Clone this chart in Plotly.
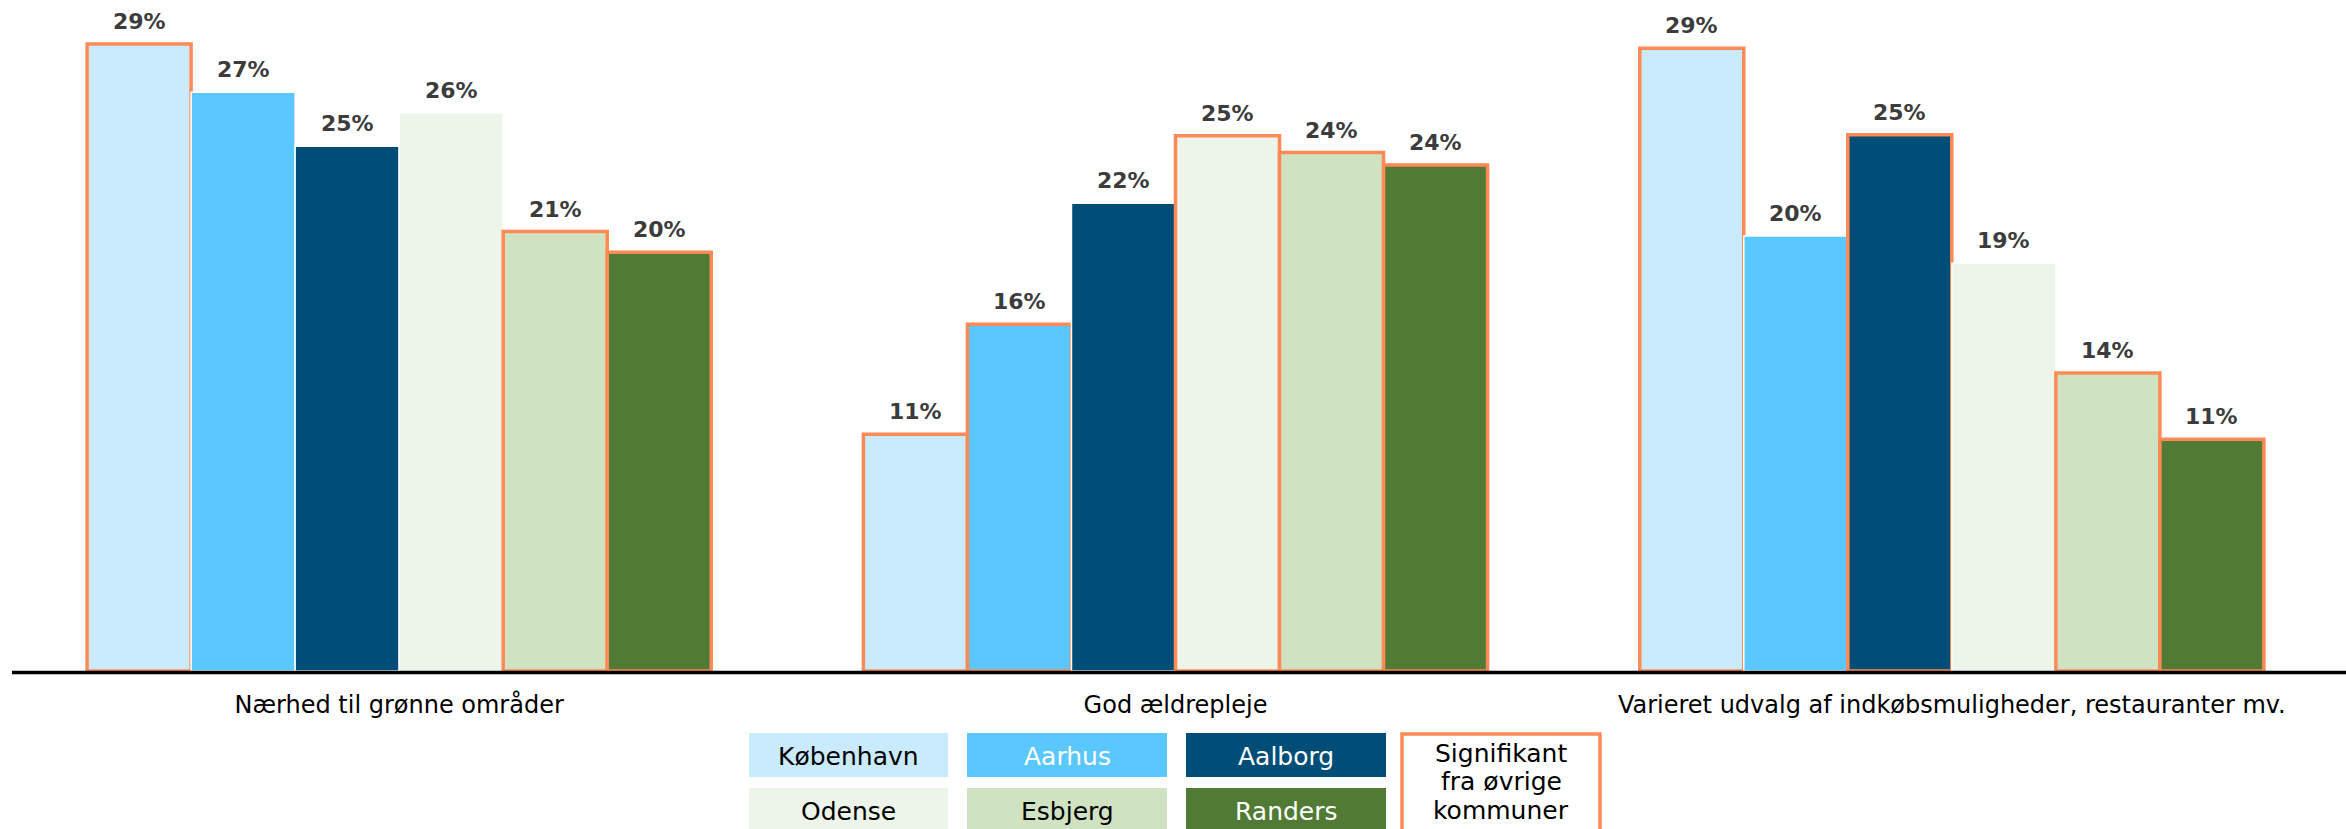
import plotly.graph_objects as go

# ---------------- data ----------------
categories = ["Nærhed til grønne områder", "God ældrepleje",
              "Varieret udvalg af indkøbsmuligheder, restauranter mv."]
cities = ["København", "Aarhus", "Aalborg", "Odense", "Esbjerg", "Randers"]

kobenhavn = [29.36, 11.09, 29.16]
aarhus = [27.10, 16.24, 20.37]
aalborg = [24.57, 21.90, 25.11]
odense = [26.14, 25.06, 19.09]
esbjerg = [20.58, 24.28, 13.95]
randers = [19.61, 23.70, 10.85]

# significant vs. other municipalities (orange outline)
sig_kobenhavn = [True, True, True]
sig_aarhus = [False, True, False]
sig_aalborg = [False, False, True]
sig_odense = [False, True, False]
sig_esbjerg = [True, True, True]
sig_randers = [True, True, True]

legend_sig_text = ["Signifikant", "fra øvrige", "kommuner"]

series = [kobenhavn, aarhus, aalborg, odense, esbjerg, randers]
sigs = [sig_kobenhavn, sig_aarhus, sig_aalborg, sig_odense, sig_esbjerg, sig_randers]

# ---------------- style ----------------
colors = ["#C9EBFD", "#5BC7FF", "#004E78", "#EDF5EA", "#CFE3C3", "#517B35"]
legend_text_colors = ["#000000", "#FFFFFF", "#FFFFFF", "#000000", "#000000", "#FFFFFF"]
ORANGE = "#FF8A56"
LABEL = "#3C3C3C"
FONT = "DejaVu Sans"

W, H = 2346, 829
ML, MR, MT, MB = 11, 6, 9, 158
PW, PH = W - ML - MR, H - MT - MB
BARGAP = 0.196
NS = len(cities)
bw = (1 - BARGAP) / NS


def px_x(X):
    return (X - ML) / PW


def px_y(Y):
    return (H - MB - Y) / PH


fig = go.Figure()
xs = list(range(len(categories)))
for j, (name, vals, sg) in enumerate(zip(cities, series, sigs)):
    fig.add_trace(go.Bar(
        name=name, x=xs, y=vals,
        marker=dict(color=colors[j],
                    line=dict(color=[ORANGE if s else "#FFFFFF" for s in sg],
                              width=[3.5 if s else 1.5 for s in sg])),
        showlegend=False, hoverinfo="skip",
    ))

annotations = []
for j, vals in enumerate(series):
    for i, v in enumerate(vals):
        xc = i - (1 - BARGAP) / 2 + (j + 0.5) * bw
        annotations.append(dict(
            x=xc, y=v, xref="x", yref="y", text=f"{round(v)}%",
            showarrow=False, yanchor="bottom", yshift=8,
            font=dict(family=FONT, size=22, color=LABEL, weight="bold"),
        ))

# custom legend boxes
shapes = []
cols_x = [(749, 948), (967, 1167), (1186, 1386)]
rows_y = [(733, 777), (788, 832)]
for j, name in enumerate(cities):
    r, c = divmod(j, 3)
    x0, x1 = cols_x[c]
    y0, y1 = rows_y[r]
    shapes.append(dict(type="rect", xref="paper", yref="paper",
                       x0=px_x(x0), x1=px_x(x1), y0=px_y(y1), y1=px_y(y0),
                       fillcolor=colors[j], line=dict(width=0), layer="above"))
    annotations.append(dict(
        x=px_x((x0 + x1) / 2), y=px_y((y0 + y1) / 2 + 1), xref="paper", yref="paper",
        text=name, showarrow=False, xanchor="center", yanchor="middle",
        font=dict(family=FONT, size=25, color=legend_text_colors[j]),
    ))

shapes.append(dict(type="rect", xref="paper", yref="paper",
                   x0=px_x(1402), x1=px_x(1600), y0=px_y(845), y1=px_y(734),
                   fillcolor="#FFFFFF", line=dict(color=ORANGE, width=3.5), layer="above"))
for k, t in enumerate(legend_sig_text):
    annotations.append(dict(
        x=px_x(1501), y=px_y(753 + 28.5 * k), xref="paper", yref="paper",
        text=t, showarrow=False, xanchor="center", yanchor="middle",
        font=dict(family=FONT, size=25, color="#000000"),
    ))

# baseline axis line (just below the bar bottoms, as in the original)
shapes.append(dict(type="line", xref="paper", yref="paper",
                   x0=px_x(12), x1=px_x(W), y0=px_y(672.5), y1=px_y(672.5),
                   line=dict(color="#000000", width=3.5), layer="above"))

fig.update_layout(
    width=W, height=H,
    margin=dict(l=ML, r=MR, t=MT, b=MB, pad=0),
    barmode="group", bargap=BARGAP, bargroupgap=0,
    plot_bgcolor="#FFFFFF", paper_bgcolor="#FFFFFF",
    font=dict(family=FONT, color="#000000"),
    xaxis=dict(range=[-0.5, len(categories) - 0.5], tickvals=xs, ticktext=categories,
               showgrid=False, zeroline=False, showline=False,
               ticks="outside", ticklen=12, tickcolor="rgba(0,0,0,0)",
               tickfont=dict(family=FONT, size=24, color="#000000")),
    yaxis=dict(range=[0, 31], visible=False, showgrid=False, zeroline=False),
    shapes=shapes, annotations=annotations,
    showlegend=False,
)

fig.write_html("out.html", config={"displayModeBar": False},
               post_script="document.body.style.margin='0';document.body.style.overflow='hidden';")
